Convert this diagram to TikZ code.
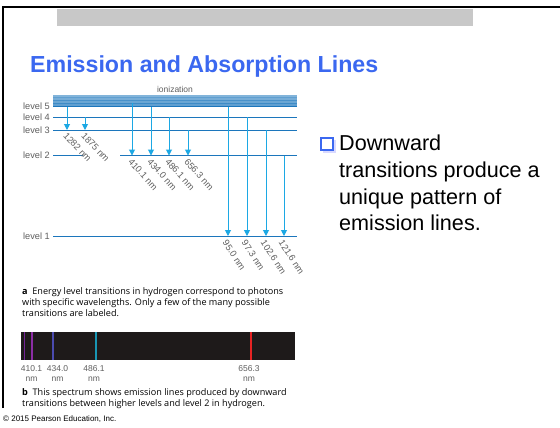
\documentclass[tikz,border=0pt]{standalone}
\usepackage{fontspec}
\setmainfont{Liberation Sans}
\newfontfamily\capfont{Open Sans}
\usetikzlibrary{arrows.meta}
\definecolor{titleblue}{RGB}{59,104,240}
\definecolor{lvlblue}{RGB}{28,118,188}
\definecolor{arrblue}{RGB}{28,168,228}
\definecolor{lblgray}{RGB}{95,95,95}
\definecolor{bargray}{RGB}{200,200,200}
\definecolor{specbg}{RGB}{30,26,26}
\tikzset{
  lvl/.style={draw=lvlblue, line width=1pt},
  trans/.style={draw=arrblue, line width=1pt, -{Triangle[width=6pt,length=6pt]}},
  lvllabel/.style={anchor=east, text=lblgray, font=\fontsize{9.2}{10}\selectfont, inner sep=0pt},
  wl/.style={anchor=west, text=lblgray, font=\fontsize{9.2}{10}\selectfont, inner sep=0pt},
  speclbl/.style={anchor=north, text=lblgray, font=\fontsize{8.5}{10}\selectfont, inner sep=0pt, align=center},
  captext/.style={anchor=north west, inner sep=0pt, align=left, font=\capfont\fontsize{9.1}{11}\selectfont},
  bullettext/.style={anchor=base west, inner sep=0pt, font=\fontsize{21.6}{26.7}\selectfont}
}
\begin{document}
\begin{tikzpicture}[x=1pt,y=-1pt]
\useasboundingbox (0,0) rectangle (560,428);
\fill[white] (0,0) rectangle (560,428);
% frame
\draw[line width=2pt] (3,408) -- (3,7) -- (560,7);
\fill[bargray] (57,9) rectangle (473,26);
% title
\node[anchor=base west, inner sep=0pt, text=titleblue, font=\bfseries\fontsize{23.2}{28}\selectfont] (title) at (30,73) {Emission and Absorption Lines};
% ionization band
\node[text=lblgray, font=\fontsize{8.5}{10}\selectfont, inner sep=0pt] (ion) at (175,89) {ionization};
\foreach \yy/\cc in {96/55, 97.5/70, 99/60, 100.5/80, 102/65, 103.5/85, 105/70}{
  \draw[draw=lvlblue!\cc, line width=1.1pt] (53,\yy) -- (297,\yy);
}
% level lines
\draw[lvl] (53,107) -- (297,107);
\draw[lvl] (53,117) -- (297,117);
\draw[lvl] (53,130) -- (297,130);
\draw[lvl] (53,155.5) -- (83,155.5);
\draw[lvl] (120,155.5) -- (297,155.5);
\draw[lvl] (53,236) -- (297,236);
\node[lvllabel] (l5) at (50,106) {level 5};
\node[lvllabel] (l4) at (50,117) {level 4};
\node[lvllabel] (l3) at (50,130.5) {level 3};
\node[lvllabel] (l2) at (50,155.5) {level 2};
\node[lvllabel] (l1) at (50,236) {level 1};
% arrow endpoints
\coordinate (a1s) at (67,107);   \coordinate (a1e) at (67,130);
\coordinate (a2s) at (85,117);   \coordinate (a2e) at (85,130);
\coordinate (b1s) at (132,103.5);\coordinate (b1e) at (132,155.5);
\coordinate (b2s) at (151,107);  \coordinate (b2e) at (151,155.5);
\coordinate (b3s) at (169,117);  \coordinate (b3e) at (169,155.5);
\coordinate (b4s) at (188,130);  \coordinate (b4e) at (188,155.5);
\coordinate (c1s) at (228,107);  \coordinate (c1e) at (228,236);
\coordinate (c2s) at (247,117);  \coordinate (c2e) at (247,236);
\coordinate (c3s) at (266,130);  \coordinate (c3e) at (266,236);
\coordinate (c4s) at (284,155.5);\coordinate (c4e) at (284,236);
\foreach \n in {a1,a2,b1,b2,b3,b4,c1,c2,c3,c4}{
  \draw[trans] (\n s) -- (\n e);
}
% wavelength labels
\node[wl, rotate=-47] (w1) at (65,134) {1282 nm};
\node[wl, rotate=-47] (w2) at (83,134) {1875 nm};
\node[wl, rotate=-48] (w3) at (130,160) {410.1 nm};
\node[wl, rotate=-48] (w4) at (149,160) {434.0 nm};
\node[wl, rotate=-48] (w5) at (167,160) {486.1 nm};
\node[wl, rotate=-48] (w6) at (186,160) {656.3 nm};
\node[wl, rotate=-57] (w7) at (225,241) {95.0 nm};
\node[wl, rotate=-57] (w8) at (244,241) {97.3 nm};
\node[wl, rotate=-57] (w9) at (263,241) {102.6 nm};
\node[wl, rotate=-57] (w10) at (281,241) {121.6 nm};
% caption a
\node[captext] (capa) at (22,287) {\textbf{a}\ \ Energy level transitions in hydrogen correspond to photons\\with specific wavelengths. Only a few of the many possible\\transitions are labeled.};
% spectrum
\fill[specbg] (21,332) rectangle (295,360);
\draw[line width=1.6pt, draw={rgb,255:red,115;green,35;blue,150}] (24.3,332) -- (24.3,360);
\draw[line width=1.6pt, draw={rgb,255:red,140;green,45;blue,165}] (31.7,332) -- (31.7,360);
\draw[line width=1.6pt, draw={rgb,255:red,75;green,75;blue,175}] (52.7,332) -- (52.7,360);
\draw[line width=1.6pt, draw={rgb,255:red,25;green,150;blue,180}] (95.7,332) -- (95.7,360);
\draw[line width=1.6pt, draw={rgb,255:red,230;green,35;blue,35}] (250.7,332) -- (250.7,360);
\node[speclbl] (s1) at (31.5,365.5) {410.1\\nm};
\node[speclbl] (s2) at (57.5,365.5) {434.0\\nm};
\node[speclbl] (s3) at (94,365.5) {486.1\\nm};
\node[speclbl] (s4) at (249,365.5) {656.3\\nm};
% caption b
\node[captext] (capb) at (22,388) {\textbf{b}\ \ This spectrum shows emission lines produced by downward\\transitions between higher levels and level 2 in hydrogen.};
\node[anchor=base west, inner sep=0pt, font=\fontsize{8}{9}\selectfont] (copy) at (3,421) {\textcopyright{} 2015 Pearson Education, Inc.};
% bullet
\fill[blue!15] (323,140) rectangle (336,153);
\draw[draw=titleblue, line width=1.3pt, fill=white] (321,138) rectangle (333,150);
\node[bullettext, align=left, anchor=north west] (txt) at (339,135) {Downward\\transitions produce a\\unique pattern of\\emission lines.};
\end{tikzpicture}
\end{document}
